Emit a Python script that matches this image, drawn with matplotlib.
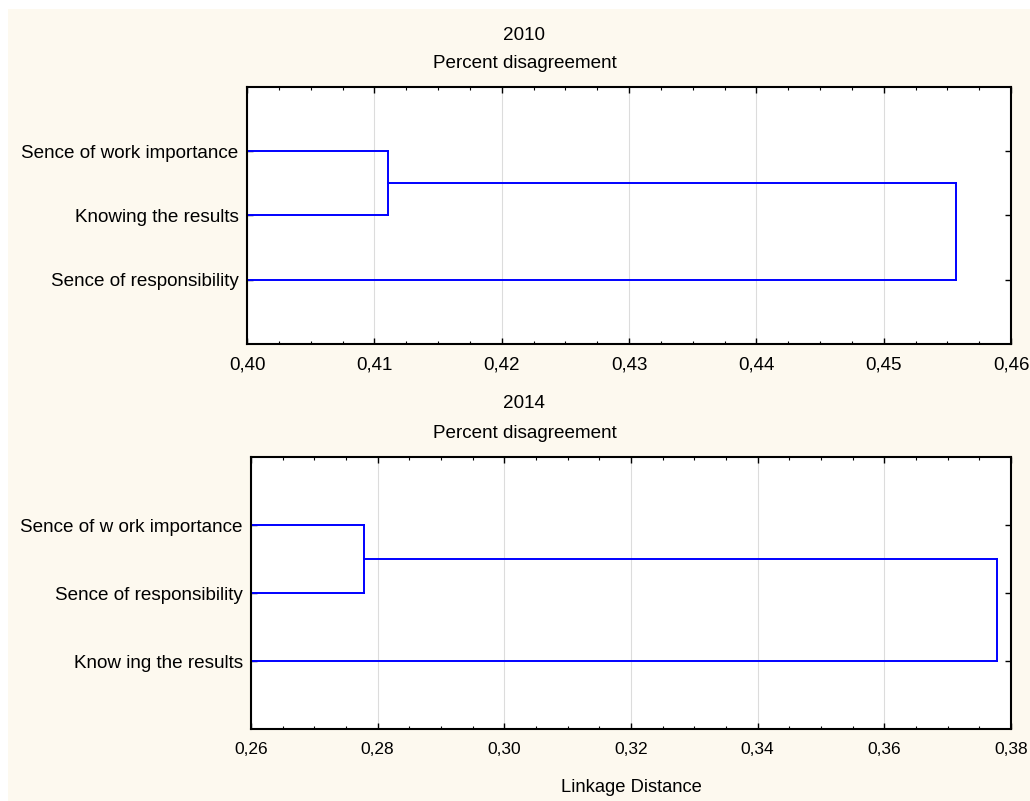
import matplotlib
matplotlib.use("Agg")
import matplotlib.pyplot as plt
from matplotlib.ticker import MultipleLocator, FuncFormatter
from matplotlib.patches import Rectangle

plt.rcParams['font.family'] = ['Liberation Sans', 'DejaVu Sans']

# ---- data ----
title_2010 = "2010"
labels_2010 = ["Sence of work importance", "Knowing the results", "Sence of responsibility"]
merge_2010 = [0.4111, 0.4557]          # linkage distances
xlim_2010 = (0.40, 0.46)
xticks_2010 = [0.40, 0.41, 0.42, 0.43, 0.44, 0.45, 0.46]

title_2014 = "2014"
labels_2014 = ["Sence of w ork importance", "Sence of responsibility", "Know ing the results"]
merge_2014 = [0.2778, 0.3778]
xlim_2014 = (0.26, 0.38)
xticks_2014 = [0.26, 0.28, 0.30, 0.32, 0.34, 0.36, 0.38]

subtitle = "Percent disagreement"
xlabel = "Linkage Distance"

W, H = 1030, 801
fig = plt.figure(figsize=(W / 100, H / 100), dpi=100)
fig.patch.set_facecolor('white')
cream = '#fdf9ef'
fig.patches.append(Rectangle((8 / W, 0), 1 - 8 / W, 1 - 9 / H, transform=fig.transFigure,
                             facecolor=cream, edgecolor='none', zorder=-10))

def px_axes(l, t, r, b):
    return fig.add_axes([l / W, 1 - b / H, (r - l) / W, (b - t) / H])

def fmt(x, pos):
    return f"{x:.2f}".replace('.', ',')

def draw(ax, labels, merges, xlim, xticks, minor, ylab_size, xtick_size):
    x0 = xlim[0]
    y = [1, 2, 3]
    c = '#0000ff'
    lw = 1.4
    # first merge: leaves 1 and 2
    ax.plot([x0, merges[0]], [y[0], y[0]], color=c, lw=lw)
    ax.plot([x0, merges[0]], [y[1], y[1]], color=c, lw=lw)
    ax.plot([merges[0], merges[0]], [y[0], y[1]], color=c, lw=lw)
    ym = (y[0] + y[1]) / 2
    # second merge
    ax.plot([merges[0], merges[1]], [ym, ym], color=c, lw=lw)
    ax.plot([x0, merges[1]], [y[2], y[2]], color=c, lw=lw)
    ax.plot([merges[1], merges[1]], [ym, y[2]], color=c, lw=lw)
    ax.set_xlim(*xlim)
    ax.set_ylim(4, 0)
    ax.set_yticks(y)
    ax.set_yticklabels(labels, fontsize=ylab_size)
    ax.set_xticks(xticks)
    ax.xaxis.set_major_formatter(FuncFormatter(fmt))
    ax.xaxis.set_minor_locator(MultipleLocator(minor))
    ax.tick_params(axis='x', which='both', direction='in', top=True, labelsize=xtick_size, pad=9)
    ax.tick_params(axis='x', which='major', length=4, width=1)
    ax.tick_params(axis='x', which='minor', length=2.5, width=0.8)
    ax.tick_params(axis='y', direction='in', right=True, length=4, width=1, pad=6)
    ax.grid(axis='x', which='major', color='#dcdcdc', lw=0.8)
    ax.set_axisbelow(True)
    for s in ax.spines.values():
        s.set_linewidth(1.5)
        s.set_color('black')
    ax.set_facecolor('white')

ax1 = px_axes(247, 87, 1011, 344)
draw(ax1, labels_2010, merge_2010, xlim_2010, xticks_2010, 0.0025, 13.6, 13.5)
ax2 = px_axes(251, 457, 1011, 729)
draw(ax2, labels_2014, merge_2014, xlim_2014, xticks_2014, 0.005, 13.6, 12.5)

def ftext(x, y, s, size=13.6):
    fig.text(x / W, 1 - y / H, s, ha='center', va='center', fontsize=size)

ftext(524, 35, title_2010)
ftext(525, 63, subtitle)
ftext(524, 403, title_2014)
ftext(525, 433, subtitle)
ftext(631, 787, xlabel, 13.2)

fig.savefig("out.png", dpi=100, facecolor=fig.get_facecolor())
